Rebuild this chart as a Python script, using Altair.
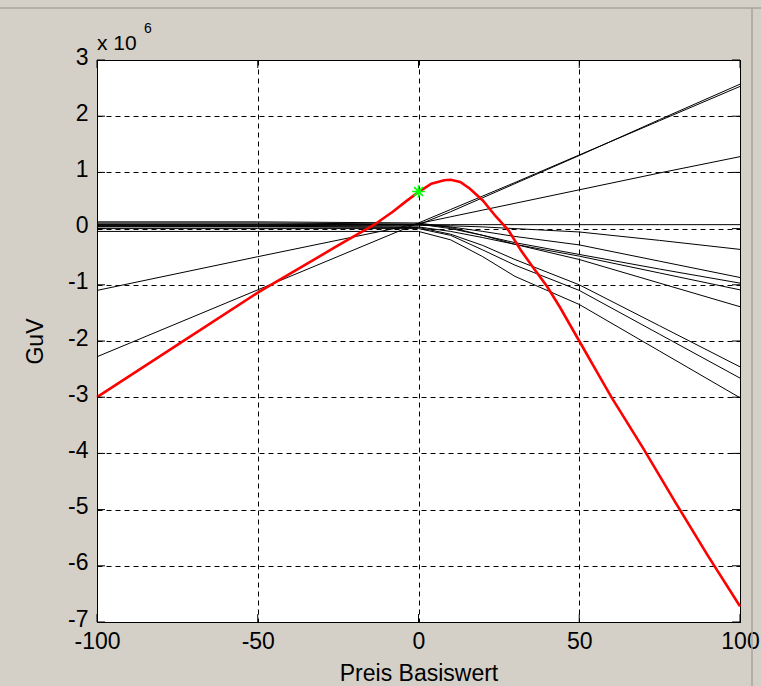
import altair as alt
import pandas as pd

# ---------------- data (y in units of 1e6) ----------------
x_grid = [-100, -50, 0, 10, 20, 30, 50, 75, 100]

line_A = [-2.28, -1.09, 0.10, 0.34, 0.58, 0.82, 1.31, 1.92, 2.53]
line_B = [-1.10, -0.50, 0.09, 0.21, 0.33, 0.45, 0.69, 0.99, 1.28]
line_C = [0.05, 0.05, 0.07, 0.30, 0.55, 0.80, 1.30, 1.94, 2.57]
line_H = [0.07, 0.07, 0.07, 0.07, 0.07, 0.07, 0.07, 0.07, 0.07]
line_D1 = [0.06, 0.06, 0.06, 0.05, 0.03, 0.00, -0.06, -0.21, -0.37]
line_D2 = [0.08, 0.08, 0.07, 0.03, -0.05, -0.14, -0.29, -0.58, -0.87]
line_D3 = [0.10, 0.10, 0.08, 0.00, -0.12, -0.25, -0.46, -0.72, -0.97]
line_D4 = [0.04, 0.04, 0.03, -0.05, -0.16, -0.28, -0.49, -0.79, -1.09]
line_D5 = [0.12, 0.12, 0.10, 0.02, -0.12, -0.28, -0.55, -0.97, -1.39]
line_D6 = [0.03, 0.03, 0.02, -0.10, -0.30, -0.55, -1.00, -1.73, -2.46]
line_D7 = [0.00, 0.00, 0.00, -0.12, -0.38, -0.65, -1.10, -1.88, -2.66]
line_D8 = [-0.05, -0.05, -0.05, -0.20, -0.50, -0.85, -1.35, -2.18, -3.01]

red_x = [-100, -75, -50, -25, -14, -8, -4, 0, 4, 8, 10, 13, 16, 20, 24, 28, 32,
         36, 40, 44, 50, 55, 60, 70, 80, 90, 100]
red_y = [-3.00, -2.07, -1.14, -0.30, 0.06, 0.30, 0.48, 0.65, 0.80, 0.86, 0.87, 0.83,
         0.71, 0.50, 0.22, -0.03, -0.40, -0.72, -1.03, -1.40, -2.00, -2.50, -3.00,
         -3.92, -4.88, -5.82, -6.72]

star_x = [0]
star_y = [0.66]

x_ticks = [-100, -50, 0, 50, 100]
y_ticks = [-7, -6, -5, -4, -3, -2, -1, 0, 1, 2, 3]

# ---------------- tables ----------------
black_series = {
    "A": line_A, "B": line_B, "C": line_C, "H": line_H,
    "D1": line_D1, "D2": line_D2, "D3": line_D3, "D4": line_D4,
    "D5": line_D5, "D6": line_D6, "D7": line_D7, "D8": line_D8,
}
rows = []
for name, vals in black_series.items():
    for xv, yv in zip(x_grid, vals):
        rows.append({"id": name, "x": xv, "y": yv})
black_df = pd.DataFrame(rows)
red_df = pd.DataFrame({"x": red_x, "y": red_y})
star_df = pd.DataFrame({"x": star_x, "y": star_y})
xt_df = pd.DataFrame({"x": x_ticks})
yt_df = pd.DataFrame({"y": y_ticks})

W, H = 643, 562
FONT = "Liberation Sans"
LBL = "'' + datum.value"

xscale = alt.Scale(domain=[-100, 100], nice=False, zero=False)
yscale = alt.Scale(domain=[-7, 3], nice=False, zero=False)

x_axis = alt.Axis(
    values=x_ticks, grid=True, gridColor="black", gridDash=[5, 4], gridOpacity=1,
    gridWidth=1, ticks=False, domain=False, labelFlush=False, labelOverlap=False,
    labelBound=False, labelPadding=8, labelFontSize=23, labelFont=FONT,
    labelColor="black", labelExpr=LBL,
    title="Preis Basiswert", titleFont=FONT, titleFontSize=23,
    titleFontWeight="normal", titleColor="black", titleX=W / 2, titleY=51,
    titleBaseline="middle", titleAlign="center",
)
y_axis = alt.Axis(
    values=y_ticks, grid=True, gridColor="black", gridDash=[5, 4], gridOpacity=1,
    gridWidth=1, ticks=False, domain=False, labelFlush=False, labelOverlap=False,
    labelBound=False, labelPadding=9, labelOffset=-3, labelFontSize=23, labelFont=FONT,
    labelColor="black", labelExpr=LBL,
    title="GuV", titleFont=FONT, titleFontSize=23,
    titleFontWeight="normal", titleColor="black", titleX=-62, titleY=H / 2,
    titleBaseline="middle", titleAlign="center", titleAngle=270,
)

black_lines = alt.Chart(black_df).mark_line(color="black", strokeWidth=1).encode(
    x=alt.X("x:Q", scale=xscale, axis=x_axis),
    y=alt.Y("y:Q", scale=yscale, axis=y_axis),
    detail="id:N",
)

red_line = alt.Chart(red_df).mark_line(color="#FF0000", strokeWidth=2.6).encode(
    x=alt.X("x:Q", scale=xscale), y=alt.Y("y:Q", scale=yscale)
)

star_shape = "M -1 0 L 1 0 M 0 -1 L 0 1 M -0.7 -0.7 L 0.7 0.7 M -0.7 0.7 L 0.7 -0.7"
star = alt.Chart(star_df).mark_point(
    shape=star_shape, color="#00FF00", filled=False, size=160, strokeWidth=1.6, opacity=1
).encode(x=alt.X("x:Q", scale=xscale), y=alt.Y("y:Q", scale=yscale))

# inward ticks on all four sides (MATLAB box style)
tick_len = 8
yt_left = alt.Chart(yt_df).mark_rule(color="black", strokeWidth=1).encode(
    y=alt.Y("y:Q", scale=yscale), x=alt.value(0), x2=alt.value(tick_len))
yt_right = alt.Chart(yt_df).mark_rule(color="black", strokeWidth=1).encode(
    y=alt.Y("y:Q", scale=yscale), x=alt.value(W - tick_len), x2=alt.value(W))
xt_bottom = alt.Chart(xt_df).mark_rule(color="black", strokeWidth=1).encode(
    x=alt.X("x:Q", scale=xscale), y=alt.value(H - tick_len), y2=alt.value(H))
xt_top = alt.Chart(xt_df).mark_rule(color="black", strokeWidth=1).encode(
    x=alt.X("x:Q", scale=xscale), y=alt.value(0), y2=alt.value(tick_len))

# window frame lines of the figure
frame_df = pd.DataFrame({"k": [0]})
frame_top = alt.Chart(frame_df).mark_rule(color="#A8A59E", strokeWidth=1.5).encode(
    x=alt.value(-97), x2=alt.value(664), y=alt.value(-52))
frame_right = alt.Chart(frame_df).mark_rule(color="#A8A59E", strokeWidth=1.5).encode(
    x=alt.value(655), y=alt.value(-52), y2=alt.value(626))

exp_df = pd.DataFrame({"t": ["x 10"]})
exp_main = alt.Chart(exp_df).mark_text(
    font=FONT, fontSize=21, color="black", align="left", baseline="alphabetic"
).encode(text="t:N", x=alt.value(0), y=alt.value(-10))
exp_sup_df = pd.DataFrame({"t": ["6"]})
exp_sup = alt.Chart(exp_sup_df).mark_text(
    font=FONT, fontSize=14, color="black", align="left", baseline="alphabetic"
).encode(text="t:N", x=alt.value(47), y=alt.value(-27))

chart = alt.layer(
    black_lines, red_line, star, yt_left, yt_right, xt_bottom, xt_top,
    frame_top, frame_right, exp_main, exp_sup
).properties(
    width=W, height=H, background="#D4D0C8",
    padding={"left": 97, "top": 60, "right": 21, "bottom": 64},
    autosize=alt.AutoSizeParams(type="none"),
).configure_view(fill="white", stroke="black", strokeWidth=1)

chart.save("out.html", embed_options={"renderer": "svg", "actions": False})
